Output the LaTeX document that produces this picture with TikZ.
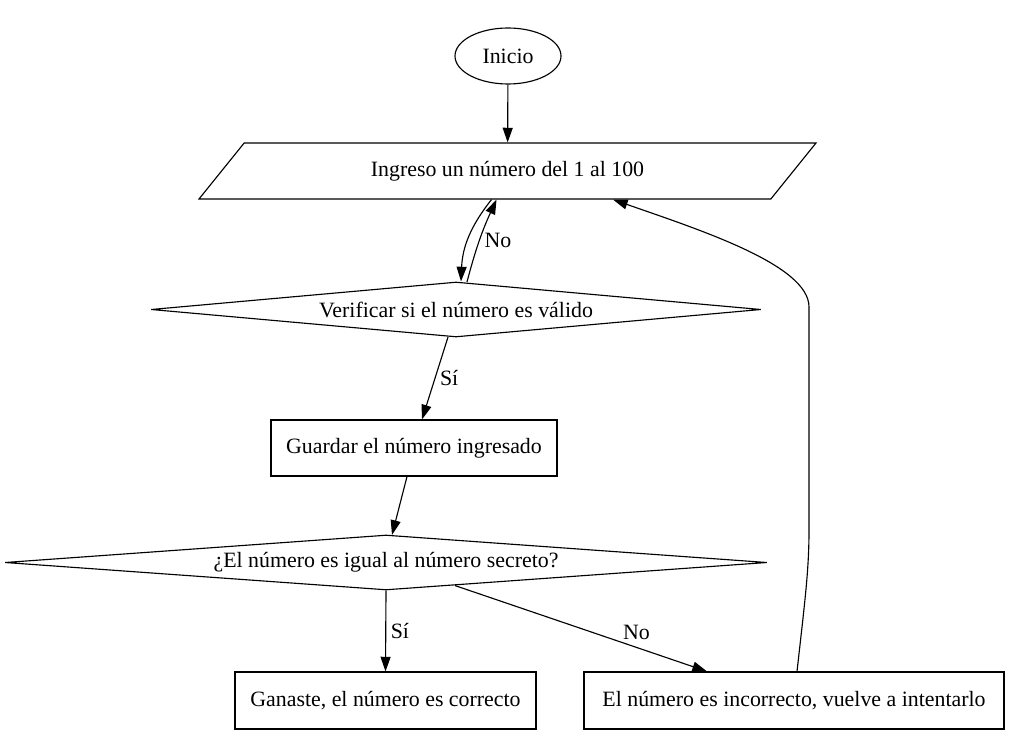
\documentclass[tikz,border=0pt]{standalone}
\usepackage{fontspec}
\setmainfont{Liberation Serif}
\usetikzlibrary{arrows.meta,shapes.geometric,calc}
\tikzstyle{block} = [rectangle, draw, inner sep=0pt, minimum height=42pt]
\tikzstyle{decision} = [diamond, draw, aspect=12, inner sep=0pt, minimum height=41.25pt]
\tikzstyle{io} = [trapezium, draw, trapezium left angle=23.8, trapezium right angle=156.2,
    trapezium stretches body, inner sep=0pt, minimum height=42pt]
\tikzstyle{startstop} = [ellipse, draw, inner sep=0pt, minimum width=79.5pt, minimum height=42pt]

\begin{document}
\begin{tikzpicture}[->,>={Triangle[length=11pt,width=7.5pt]},x=0.75pt,y=-0.75pt,
                    line width=0.85pt,font=\fontsize{16.4}{19.7}\selectfont]
  \useasboundingbox (0,0) rectangle (1017,752);

  \node[startstop] (start) at (508,56) {Inicio};
  \node[io, minimum width=462.75pt] (input) at (507.5,171) {Ingreso un número del 1 al 100};
  \node[decision, minimum width=457.5pt] (check) at (456,309.5) {Verificar si el número es válido};
  \node[block, minimum width=214.5pt] (save) at (414,448) {Guardar el número ingresado};
  \node[decision, minimum width=571.5pt] (decide) at (386,562.5) {¿El número es igual al número secreto?};
  \node[block, minimum width=225.75pt, minimum height=42.75pt] (win) at (385.5,700.5) {Ganaste, el número es correcto};
  \node[block, minimum width=315pt, minimum height=42.75pt] (retry) at (794,700.5) {El número es incorrecto, vuelve a intentarlo};

  \path (start) edge (input)
        ($(input.south)+(-16,0)$) edge[bend right=18] ($(check.north)+(5,0)$)
        ($(check.north)+(11,0.5)$) edge[bend left=5] node[right] {No} ($(input.south)+(-11,0)$)
        ($(check.south)+(-8,-0.5)$) edge node[right] {Sí} ($(save.north)+(8,0)$)
        ($(save.south)+(-7,0)$) edge ($(decide.north)+(6,0.5)$)
        (decide.south) edge node[right] {Sí} (win.north)
        ($(decide.south)+(69,-5)$) edge node[pos=0.72,above,yshift=2pt] {No} ($(retry.north)+(-87,0)$);

  \draw ($(retry.north)+(3,0)$) .. controls (805,600) and (809,570) .. (809,530)
        -- (809,307) .. controls (809,265) and (700,230) .. ($(input.south)+(105.5,0)$);
\end{tikzpicture}
\end{document}
